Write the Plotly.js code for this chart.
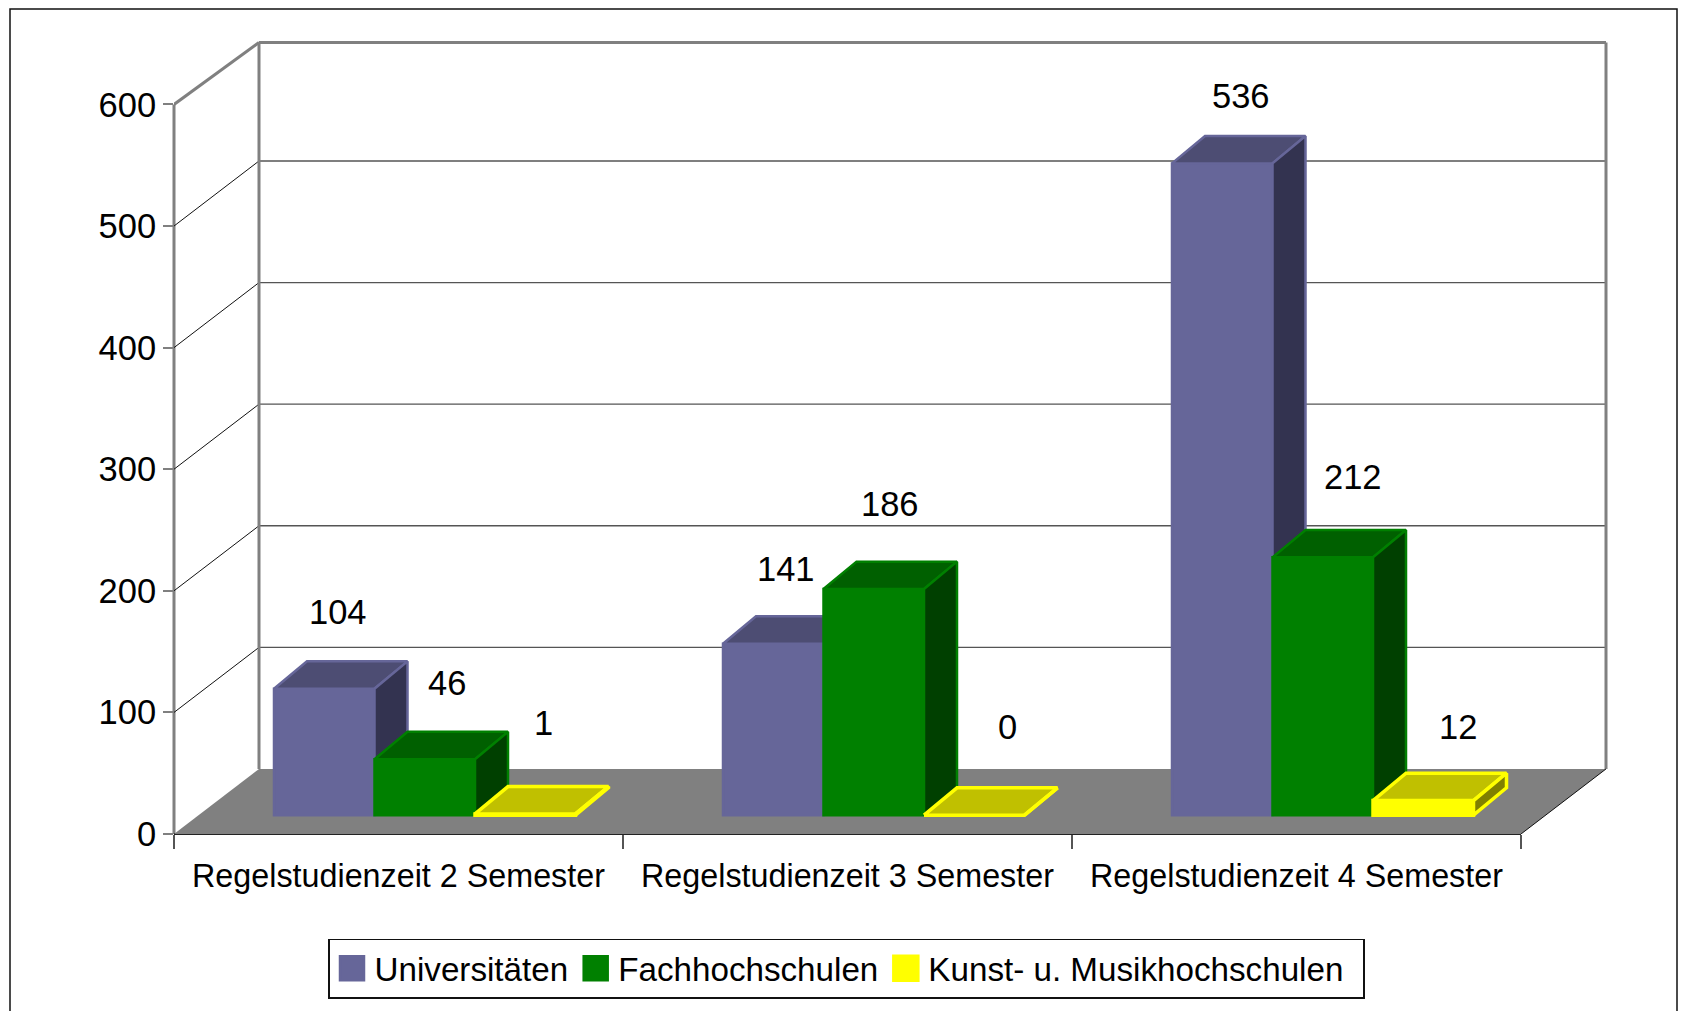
<!DOCTYPE html>
<html>
<head>
<meta charset="utf-8">
<script src="https://cdn.plot.ly/plotly-3.0.1.min.js"></script>
<style>html,body{margin:0;padding:0;background:#fff;overflow:hidden}#chart{width:1683px;height:1011px}</style>
</head>
<body>
<div id="chart"></div>
<script>
// ---- data ----
const categories = ['Regelstudienzeit 2 Semester', 'Regelstudienzeit 3 Semester', 'Regelstudienzeit 4 Semester'];
const seriesNames = ['Universitäten', 'Fachhochschulen', 'Kunst- u. Musikhochschulen'];
const universitaeten = [104, 141, 536];
const fachhochschulen = [46, 186, 212];
const kunstMusik = [1, 0, 12];
const yTicks = [0, 100, 200, 300, 400, 500, 600];

// ---- styling / geometry ----
const frontFace = ['#666699', '#008000', '#ffff00'];
const topFace = ['#4d4d73', '#006000', '#c0c000'];
const sideFace = ['#333350', '#004000', '#808000'];
const edgeWidth = [2.5, 2.5, 3.5];
const L = 174, R = 1610, T = 40, B = 836, W = 1683, H = 1011;
const xUnit = 449, yUnit = 1.219;
const xMin = -0.5, xMax = xMin + (R - L) / xUnit, yMax = (B - T) / yUnit;
const wallDX = 85 / xUnit, wallDY = 53.5, wallTop = 651;
const barW = 100.5 / xUnit, barStart = 100 / xUnit, barDX = 33 / xUnit, barDY = 22.5, barBase = 15.5;
const FONT = '"Liberation Sans", Arial, sans-serif';
const px = v => (v - L) / (R - L), py = v => (B - v) / (B - T);
const allSeries = [universitaeten, fachhochschulen, kunstMusik];
// label nudges in pixels, [x, y], per series and category
const nudge = [
  [[-3, 8], [-4, 6.5], [2, -1]],
  [[5.4, 7.5], [0, 17], [14, 11.7]],
  [[1.7, 22.5], [16.7, 20], [18, 5.3]]
];

const traces = [];
const annotations = [];
allSeries.forEach((vals, s) => {
  const xa = s === 0 ? 'x' : 'x' + (s + 1);
  const centers = vals.map((_, i) => i + xMin + barStart + s * barW + barW / 2);
  traces.push({
    type: 'bar', name: seriesNames[s], x: centers, y: vals, base: barBase, width: barW,
    xaxis: xa, yaxis: 'y', marker: {color: frontFace[s], line: {color: frontFace[s], width: edgeWidth[s]}},
    hoverinfo: 'y', showlegend: true
  });
  const tx = [], ty = [], sx = [], sy = [];
  vals.forEach((v, i) => {
    const x0 = centers[i] - barW / 2, x1 = centers[i] + barW / 2, yt = barBase + v;
    tx.push(x0, x1, x1 + barDX, x0 + barDX, x0, null);
    ty.push(yt, yt, yt + barDY, yt + barDY, yt, null);
    sx.push(x1, x1 + barDX, x1 + barDX, x1, x1, null);
    sy.push(barBase, barBase + barDY, yt + barDY, yt, barBase, null);
    annotations.push({
      x: centers[i] + barDX / 2, y: yt + barDY, xref: xa, yref: 'y', text: String(v), showarrow: false,
      yanchor: 'bottom', xanchor: 'center', xshift: nudge[s][i][0], yshift: 20 + nudge[s][i][1],
      font: {family: FONT, size: 34.5, color: '#000'}
    });
  });
  [[tx, ty, topFace[s]], [sx, sy, sideFace[s]]].forEach(([fx, fy, col]) => traces.push({
    type: 'scatter', mode: 'lines', x: fx, y: fy, xaxis: xa, yaxis: 'y', fill: 'toself', fillcolor: col,
    line: {color: frontFace[s], width: edgeWidth[s]}, hoverinfo: 'skip', showlegend: false, connectgaps: false
  }));
});

const shapes = [];
const addLine = (x0, y0, x1, y1, color, width, extra) => shapes.push(Object.assign(
  {type: 'line', xref: 'x', yref: 'y', x0, y0, x1, y1, layer: 'below', line: {color, width}}, extra || {}));
// floor
shapes.push({type: 'path', xref: 'x', yref: 'y', layer: 'below', fillcolor: '#808080', line: {width: 0},
  path: `M${xMin},0 L${2.5},0 L${2.5 + wallDX},${wallDY} L${xMin + wallDX},${wallDY} Z`});
// wall grid
yTicks.slice(1, -1).forEach(v => {
  addLine(xMin, v, xMin + wallDX, v + wallDY, '#111', 1);
  addLine(xMin + wallDX, v + wallDY, 2.5 + wallDX, v + wallDY, '#555', 1.3);
});
// wall frame
addLine(xMin, 600, xMin + wallDX, wallTop, '#808080', 3);
addLine(xMin + wallDX, wallTop, 2.5 + wallDX, wallTop, '#808080', 3);
addLine(xMin + wallDX, wallDY, xMin + wallDX, wallTop, '#808080', 3);
addLine(2.5 + wallDX, wallDY, 2.5 + wallDX, wallTop, '#808080', 3);
addLine(2.5, 0, 2.5 + wallDX, wallDY, '#111', 1);
// front axis lines
shapes.push({type: 'line', xref: 'paper', yref: 'y', x0: 0, x1: 0, y0: 0, y1: 600, layer: 'below', line: {color: '#808080', width: 3}});
shapes.push({type: 'line', xref: 'x', yref: 'paper', x0: xMin, x1: 2.5, y0: 0, y1: 0, layer: 'below', line: {color: '#222', width: 2}});
// outer frame
shapes.push({type: 'rect', xref: 'paper', yref: 'paper', x0: px(10), x1: px(1677), y0: py(1020), y1: py(9),
  layer: 'below', fillcolor: 'rgba(0,0,0,0)', line: {color: '#111', width: 1.5}});

const hiddenX = {overlaying: 'x', range: [xMin, xMax], visible: false, type: 'linear', fixedrange: true};
const layout = {
  width: W, height: H, showlegend: true, paper_bgcolor: '#fff', plot_bgcolor: 'rgba(0,0,0,0)',
  margin: {l: L, r: W - R, t: T, b: H - B, pad: 0},
  barmode: 'overlay',
  font: {family: FONT, size: 34, color: '#000'},
  xaxis: {
    type: 'linear', range: [xMin, xMax], tickmode: 'array', tickvals: [0, 1, 2], ticktext: categories,
    ticks: '', showgrid: false, zeroline: false, showline: false, fixedrange: true,
    tickfont: {family: FONT, size: 32.3, color: '#000'}, ticklabelstandoff: 20,
    minor: {tickmode: 'array', tickvals: [-0.5, 0.5, 1.5, 2.5], ticks: 'outside', ticklen: 14, tickwidth: 1.5, tickcolor: '#555', showgrid: false}
  },
  xaxis2: hiddenX, xaxis3: Object.assign({}, hiddenX),
  yaxis: {
    range: [0, yMax], tickmode: 'array', tickvals: yTicks, ticks: 'outside', ticklen: 10, tickwidth: 2, tickcolor: '#808080',
    showgrid: false, zeroline: false, showline: false, fixedrange: true,
    tickfont: {family: FONT, size: 34.5, color: '#000'}
  },
  legend: {
    orientation: 'h', x: px(328), y: py(941), xanchor: 'left', yanchor: 'top',
    bgcolor: '#fff', bordercolor: '#111', borderwidth: 1.5, font: {family: FONT, size: 33.2, color: '#000'},
    itemwidth: 35, itemclick: false, itemdoubleclick: false
  },
  shapes, annotations
};
Plotly.newPlot('chart', traces, layout, {displayModeBar: false, responsive: false}).then(() => {
  document.querySelectorAll('.legend .legendpoints path').forEach(p => p.setAttribute('d', 'M12,12H-12V-12H12Z'));
  document.querySelectorAll('.legend rect.bg').forEach(r => r.setAttribute('width', 1035));
});
</script>
</body>
</html>
